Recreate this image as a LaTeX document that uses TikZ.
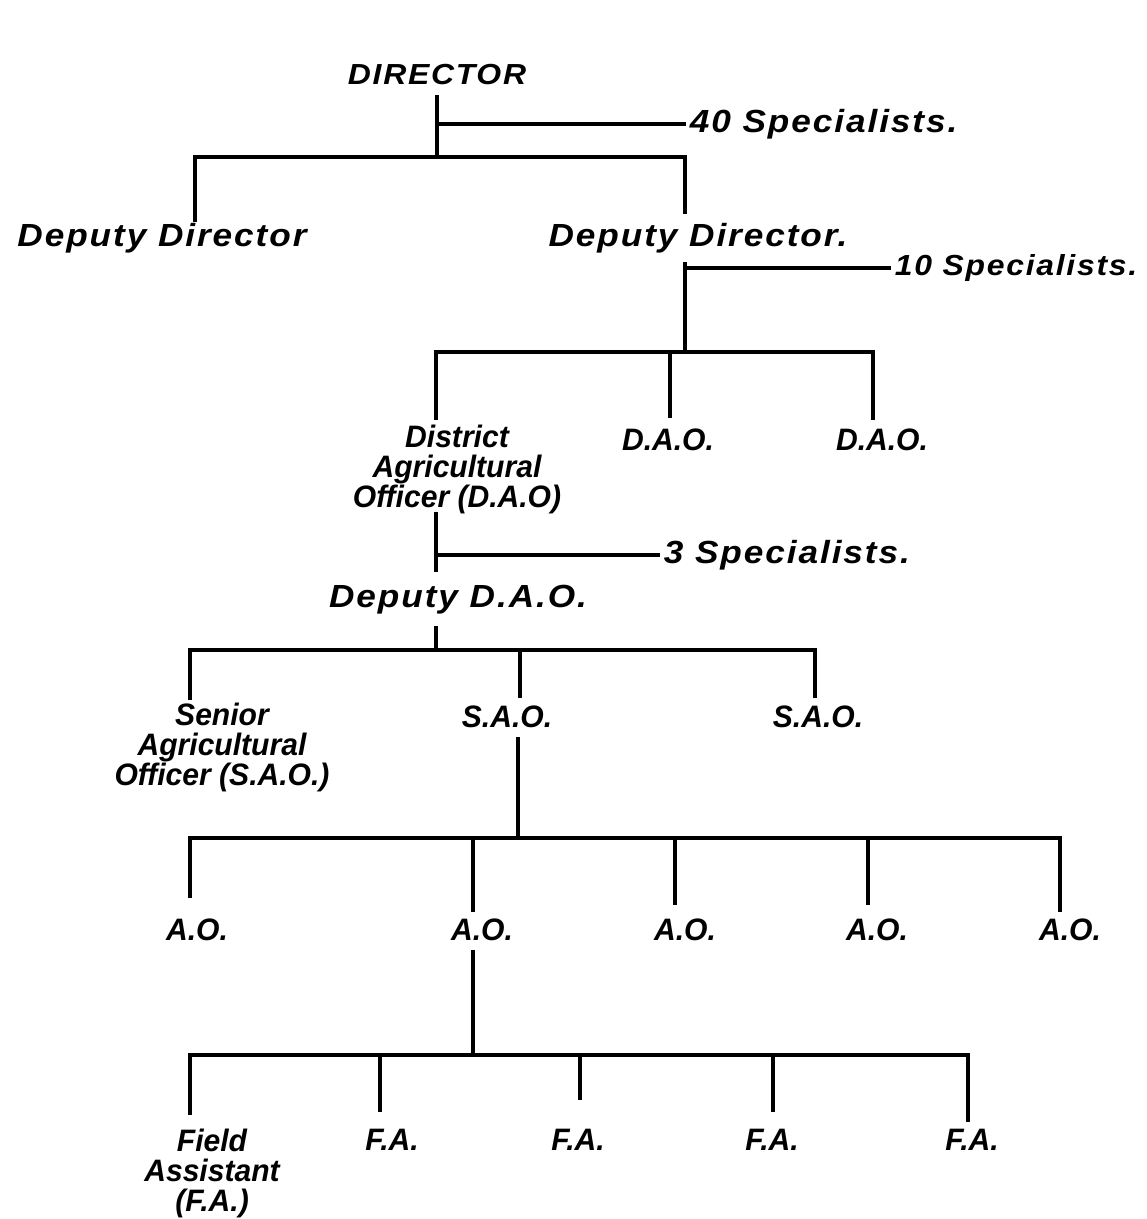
\documentclass[tikz,border=0pt]{standalone}
\usepackage{fontspec}
\newfontfamily\hand[LetterSpace=6,FakeStretch=1.1]{Liberation Sans}
\newfontfamily\handn[FakeStretch=0.97]{Liberation Sans}
\begin{document}
\begin{tikzpicture}[x=1pt,y=-1pt,line width=3.6pt,
  lbl/.style={font=\hand\bfseries\itshape\fontsize{32}{30}\selectfont,inner sep=2pt},
  big/.style={font=\hand\bfseries\itshape\fontsize{29}{30}\selectfont,inner sep=2pt},
  sm/.style={font=\handn\bfseries\itshape\fontsize{31}{30}\selectfont,inner sep=2pt,align=center}]
\useasboundingbox (0,0) rectangle (1147,1219);
% labels
\node[big] (dir) at (437,75) {DIRECTOR};
\node[lbl,anchor=west] (s40) at (686,124) {40 Specialists.};
\node[lbl] (dd1) at (162,238) {Deputy Director};
\node[lbl] (dd2) at (698,238) {Deputy Director.};
\node[big,anchor=west] (s10) at (891,268) {10 Specialists.};
\node[sm] (dao1) at (457,469) {District\\Agricultural\\Officer (D.A.O)};
\node[sm] (dao2) at (668,440) {D.A.O.};
\node[sm] (dao3) at (882,440) {D.A.O.};
\node[lbl,anchor=west] (s3) at (660,555) {3 Specialists.};
\node[lbl] (ddao) at (458,600) {Deputy D.A.O.};
\node[sm] (sao1) at (222,747) {Senior\\Agricultural\\Officer (S.A.O.)};
\node[sm] (sao2) at (507,717) {S.A.O.};
\node[sm] (sao3) at (818,717) {S.A.O.};
\node[sm] (ao1) at (197,930) {A.O.};
\node[sm] (ao2) at (482,930) {A.O.};
\node[sm] (ao3) at (685,930) {A.O.};
\node[sm] (ao4) at (877,930) {A.O.};
\node[sm] (ao5) at (1070,930) {A.O.};
\node[sm] (fa1) at (212,1173) {Field\\Assistant\\(F.A.)};
\node[sm] (fa2) at (392,1140) {F.A.};
\node[sm] (fa3) at (578,1140) {F.A.};
\node[sm] (fa4) at (772,1140) {F.A.};
\node[sm] (fa5) at (972,1140) {F.A.};
% level 1
\coordinate (d0) at (437,95);
\coordinate (j1) at (437,157);
\coordinate (e1) at (195,222);
\coordinate (e2a) at (685,214);
\draw (d0) -- (j1);
\draw (d0 |- s40.west) -- (s40.west);
\draw (e1) |- (j1) -| (e2a);
% level 2
\coordinate (e2b) at (685,262);
\coordinate (j2) at (685,352);
\coordinate (k1) at (436,420);
\coordinate (k2) at (670,418);
\coordinate (k3) at (873,420);
\draw (e2b) -- (j2);
\draw (e2b |- s10.west) -- (s10.west);
\draw (k1) |- (j2) -| (k3);
\draw (j2 -| k2) -- (k2);
% level 3
\coordinate (f1) at (436,512);
\coordinate (f2) at (436,572);
\coordinate (f3) at (436,626);
\coordinate (j3) at (436,650);
\coordinate (m1) at (190,700);
\coordinate (m2) at (520,698);
\coordinate (m3) at (815,698);
\draw (f1) -- (f2);
\draw (f3) -- (j3);
\draw (f1 |- s3.west) -- (s3.west);
\draw (m1) |- (j3) -| (m3);
\draw (j3 -| m2) -- (m2);
% level 4
\coordinate (g1) at (518,737);
\coordinate (j4) at (518,838);
\coordinate (n1) at (190,898);
\coordinate (n2) at (473,912);
\coordinate (n3) at (675,905);
\coordinate (n4) at (868,905);
\coordinate (n5) at (1060,912);
\draw (g1) -- (j4);
\draw (n1) |- (j4) -| (n5);
\draw (j4 -| n2) -- (n2);
\draw (j4 -| n3) -- (n3);
\draw (j4 -| n4) -- (n4);
% level 5
\coordinate (h1) at (473,950);
\coordinate (j5) at (473,1055);
\coordinate (p1) at (190,1115);
\coordinate (p2) at (380,1112);
\coordinate (p3) at (580,1100);
\coordinate (p4) at (773,1112);
\coordinate (p5) at (968,1122);
\draw (h1) -- (j5);
\draw (p1) |- (j5) -| (p5);
\draw (j5 -| p2) -- (p2);
\draw (j5 -| p3) -- (p3);
\draw (j5 -| p4) -- (p4);
\end{tikzpicture}
\end{document}
